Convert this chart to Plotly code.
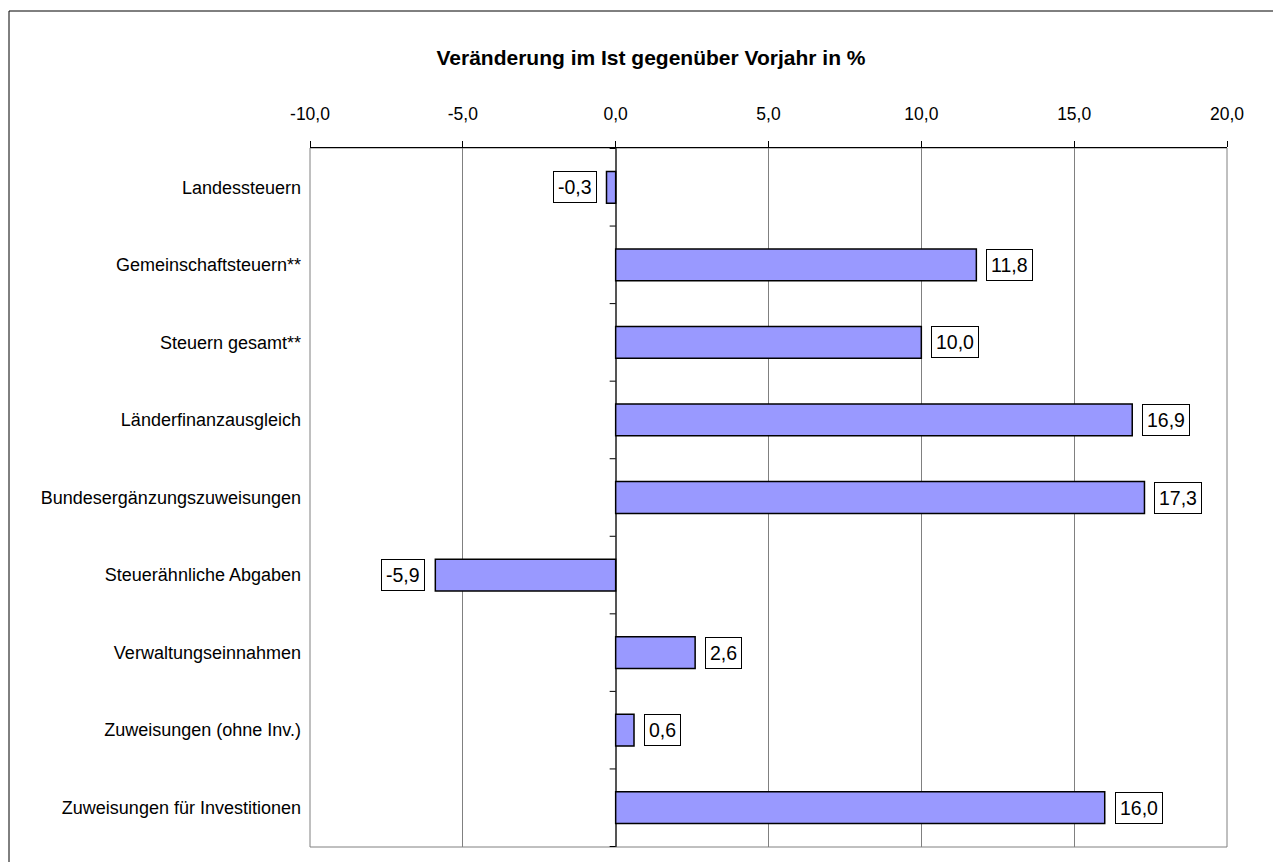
import plotly.graph_objects as go

categories = [
    "Landessteuern",
    "Gemeinschaftsteuern**",
    "Steuern gesamt**",
    "Länderfinanzausgleich",
    "Bundesergänzungszuweisungen",
    "Steuerähnliche Abgaben",
    "Verwaltungseinnahmen",
    "Zuweisungen (ohne Inv.)",
    "Zuweisungen für Investitionen",
]
values = [-0.3, 11.8, 10.0, 16.9, 17.3, -5.9, 2.6, 0.6, 16.0]
x_ticks = [-10, -5, 0, 5, 10, 15, 20]
x_tick_labels = ["-10,0", "-5,0", "0,0", "5,0", "10,0", "15,0", "20,0"]

FONT = "Liberation Sans, Arial, sans-serif"
W, H = 1273, 862
L, R, T, B = 310, 1227, 148, 847

fig = go.Figure()
fig.add_trace(go.Bar(
    y=categories, x=values, orientation="h",
    marker=dict(color="#9999FF", line=dict(color="black", width=1.5)),
    hoverinfo="x+y", showlegend=False,
))

# data labels in boxes
for c, v in zip(categories, values):
    txt = f"{v:.1f}".replace(".", ",")
    fig.add_annotation(
        x=v, y=c, xref="x", yref="y", text=txt, showarrow=False,
        xanchor="left" if v >= 0 else "right",
        xshift=10 if v >= 0 else -10,
        font=dict(family=FONT, size=19.5, color="black"),
        bgcolor="white", bordercolor="black", borderwidth=1, borderpad=4,
    )

shapes = []
# plot area border (gray)
shapes.append(dict(type="rect", xref="paper", yref="paper", x0=0, x1=1, y0=0, y1=1,
                   line=dict(color="#808080", width=1), layer="below"))
# category boundary tick marks on the zero line
for i in range(len(categories) + 1):
    shapes.append(dict(type="line", xref="x", yref="y", xsizemode="pixel", xanchor=0,
                       x0=-6, x1=0, y0=i - 0.5, y1=i - 0.5,
                       line=dict(color="black", width=1)))
# outer chart border
pw, ph = R - L, B - T
shapes.append(dict(type="rect", xref="paper", yref="paper",
                   x0=(9 - L) / pw, x1=(W + 40 - L) / pw,
                   y0=(B - (H + 40)) / ph, y1=(B - 11) / ph,
                   line=dict(color="black", width=1), fillcolor="rgba(0,0,0,0)"))

fig.update_layout(
    width=W, height=H,
    margin=dict(l=L, r=W - R, t=T, b=H - B, pad=0),
    paper_bgcolor="white", plot_bgcolor="white",
    font=dict(family=FONT, color="black"),
    bargap=0.59,
    title=dict(text="<b>Veränderung im Ist gegenüber Vorjahr in %</b>",
               x=651 / W, xref="container", xanchor="center",
               y=1 - 58 / H, yref="container", yanchor="middle",
               font=dict(family=FONT, size=21, color="black")),
    xaxis=dict(side="top", range=[-10, 20], tickmode="array",
               tickvals=x_ticks, ticktext=x_tick_labels,
               showgrid=True, gridcolor="#808080", gridwidth=1,
               zeroline=True, zerolinecolor="#555555", zerolinewidth=1.5,
               showline=True, linecolor="black", linewidth=1,
               ticks="outside", ticklen=6, tickcolor="black",
               ticklabelstandoff=14,
               tickfont=dict(family=FONT, size=17.5, color="black"),
               fixedrange=True),
    yaxis=dict(autorange="reversed", showgrid=False, zeroline=False,
               showline=False, ticks="", ticklabelstandoff=8,
               tickfont=dict(family=FONT, size=18, color="black"),
               fixedrange=True),
    shapes=shapes,
)

fig.write_html("out.html", config={"displayModeBar": False},
               post_script="document.body.style.margin='0';")
